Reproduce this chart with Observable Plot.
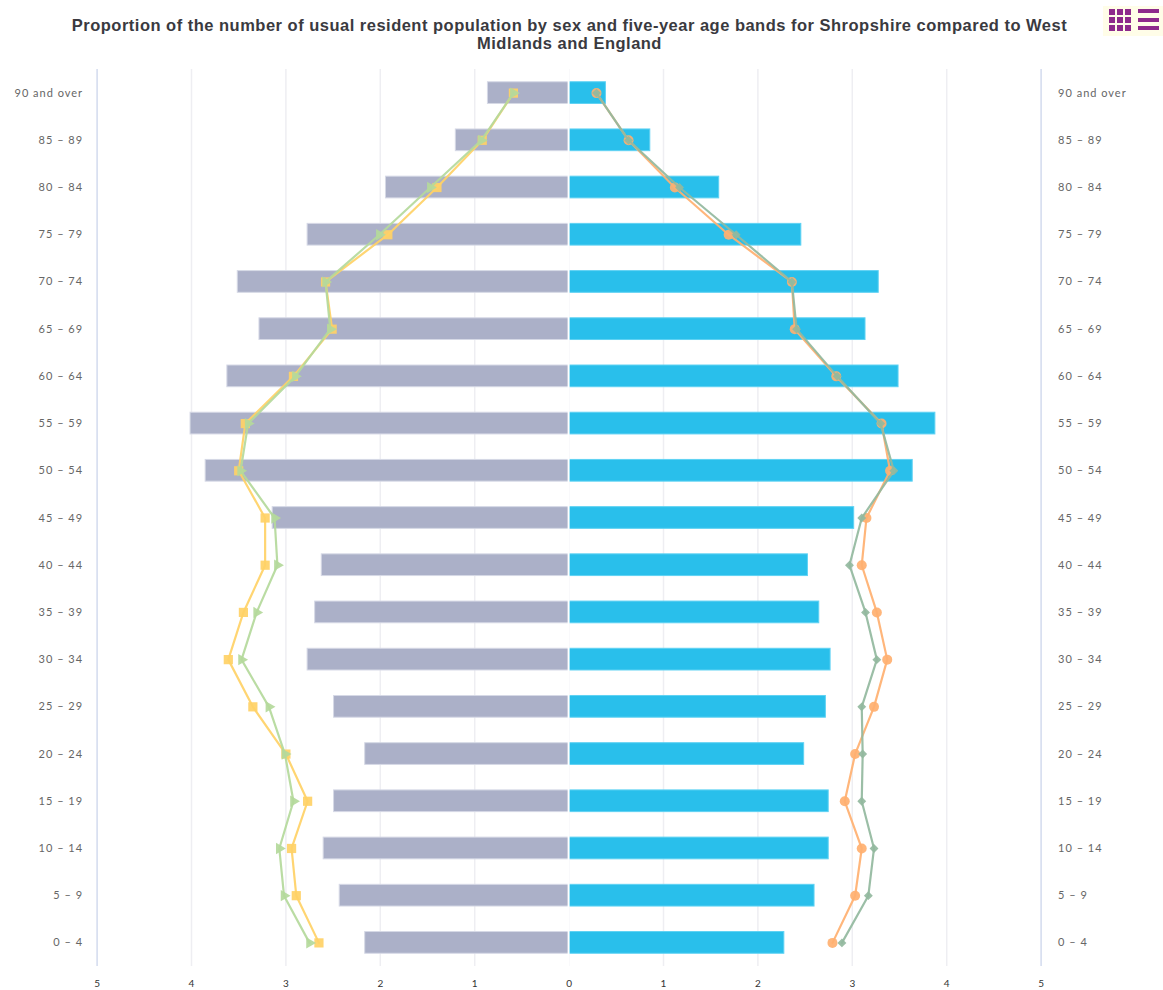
<!DOCTYPE html>
<html><head><meta charset="utf-8">
<script src="https://cdn.jsdelivr.net/npm/d3@7"></script>
<script src="https://cdn.jsdelivr.net/npm/@observablehq/plot@0.6"></script>
<style>
html,body{margin:0;padding:0;background:#fff;width:1163px;height:990px;overflow:hidden}
#wrap{position:relative;width:1163px;height:990px}
#title{position:absolute;left:0;top:16px;width:1139px;text-align:center;font:bold 16.5px/18px "Liberation Sans",Arial,sans-serif;letter-spacing:.49px;color:#3a3a3f;}
#chart{position:absolute;left:0;top:60px}
#chart svg{display:block;max-width:none}
#chart g[aria-label="y-axis tick label"]{letter-spacing:1px}
#icons{position:absolute;left:1103px;top:6px;width:60px;height:30px;background:#fffde8;display:flex;gap:7px;padding:3px 0 0 6px;box-sizing:border-box}
#grid{display:grid;grid-template-columns:repeat(3,6px);grid-auto-rows:6px;gap:2px;height:22px}
#grid i{background:#8e2a8b;display:block}
#ham{display:flex;flex-direction:column;justify-content:space-between;width:21px;height:21px}
#ham i{background:#8e2a8b;display:block;height:4px}
</style></head><body>
<div id="wrap">
<div id="title">Proportion of the number of usual resident population by sex and five-year age bands for Shropshire compared to West<br>Midlands and England</div>
<div id="icons"><div id="grid"><i></i><i></i><i></i><i></i><i></i><i></i><i></i><i></i><i></i></div><div id="ham"><i></i><i></i><i></i></div></div>
<div id="chart"></div>
</div>
<script>
const ages = ["90 and over","85 – 89","80 – 84","75 – 79","70 – 74","65 – 69","60 – 64","55 – 59","50 – 54","45 – 49","40 – 44","35 – 39","30 – 34","25 – 29","20 – 24","15 – 19","10 – 14","5 – 9","0 – 4"];
const femaleShropshire = [0.86,1.20,1.94,2.77,3.51,3.28,3.62,4.01,3.85,3.14,2.62,2.69,2.77,2.49,2.16,2.49,2.60,2.43,2.16];
const maleShropshire = [0.39,0.86,1.59,2.46,3.28,3.14,3.49,3.88,3.64,3.02,2.53,2.65,2.77,2.72,2.49,2.75,2.75,2.60,2.28];
const femaleWestMidlands = [0.59,0.92,1.40,1.92,2.58,2.51,2.92,3.43,3.50,3.22,3.22,3.45,3.61,3.35,3.00,2.77,2.94,2.89,2.65];
const femaleEngland = [0.59,0.93,1.47,2.01,2.58,2.53,2.90,3.40,3.48,3.12,3.09,3.31,3.47,3.18,3.01,2.92,3.07,3.02,2.75];
const maleWestMidlands = [0.29,0.63,1.12,1.69,2.36,2.39,2.83,3.31,3.40,3.15,3.10,3.26,3.37,3.23,3.03,2.92,3.10,3.03,2.79];
const maleEngland = [0.29,0.63,1.17,1.77,2.36,2.41,2.84,3.30,3.44,3.10,2.97,3.14,3.26,3.10,3.11,3.10,3.23,3.17,2.89];
const xTicks = [-5,-4,-3,-2,-1,0,1,2,3,4,5];

const rows = (vals, sign) => ages.map((age,i) => ({age, v: sign*vals[i]}));
const serie = (vals, sign, color, symbol, rotate, r) => [
  Plot.line(rows(vals,sign), {x:"v", y:"age", stroke:color, strokeWidth:2.2, strokeOpacity:.92, curve:"linear"}),
  Plot.dot(rows(vals,sign), {x:"v", y:"age", fill:color, fillOpacity:.92, symbol, r, rotate})
];
const labelFont = {fontSize:11, fill:"#666", tickSize:0, label:null};
const chart = Plot.plot({
  width:1163, height:930, marginTop:9, marginBottom:24, marginLeft:96.6, marginRight:122.4,
  style:{fontFamily:"Lato, 'Open Sans', sans-serif", background:"transparent", overflow:"visible"},
  x:{domain:[-5,5], axis:null},
  y:{domain:ages, axis:null, paddingInner:.54, paddingOuter:.27, align:.5, round:false},
  marks:[
    Plot.ruleX(xTicks.filter(d=>Math.abs(d)<5), {stroke:"#eeeef2", strokeWidth:1.5}),
    Plot.ruleX([-5,5], {stroke:"#d3dbee", strokeWidth:1.5}),
    Plot.barX(rows(femaleShropshire,-1), {x:"v", y:"age", fill:"#abb0c8", stroke:"#d6d9e6", strokeWidth:1}),
    Plot.barX(rows(maleShropshire,1), {x:"v", y:"age", fill:"#29bfeb", stroke:"#5fd2f3", strokeWidth:1}),
    Plot.ruleX([0], {stroke:"#fff", strokeWidth:2, dx:-0.5}),
    ...serie(femaleWestMidlands,-1,"#ffd166","square",0,5.2),
    ...serie(femaleEngland,-1,"#b4d99b","triangle",90,4.2),
    ...serie(maleWestMidlands,1,"#ffb070","circle",0,5),
    ...serie(maleEngland,1,"#92b99e","diamond2",0,4),
    Plot.axisY(ages,{anchor:"left", tickPadding:14, ...labelFont}),
    Plot.axisY(ages,{anchor:"right", tickPadding:17, ...labelFont}),
    Plot.axisX(xTicks,{anchor:"bottom", tickSize:0, tickPadding:13, fontSize:10, fill:"#333", label:null, tickFormat:d=>Math.abs(d)})
  ]
});
document.getElementById("chart").append(chart);
</script>
</body></html>
